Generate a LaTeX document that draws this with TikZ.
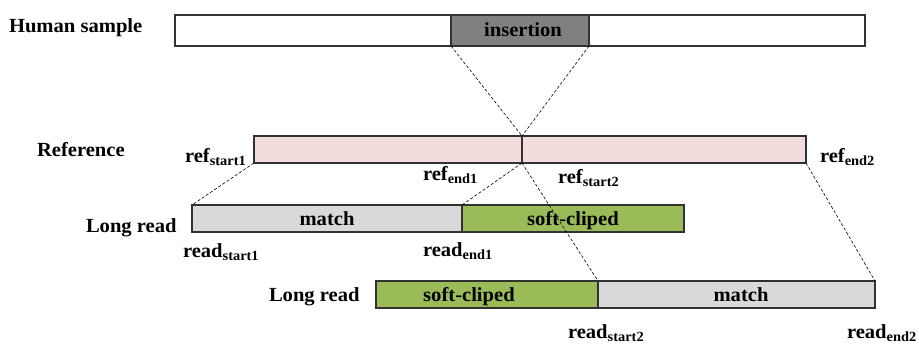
\documentclass[tikz,border=0pt]{standalone}
\usepackage{fontspec}
\setmainfont{Liberation Serif}[FakeStretch=1.03]
\definecolor{insgray}{RGB}{128,128,128}
\definecolor{refpink}{RGB}{242,220,219}
\definecolor{matchgray}{RGB}{217,217,217}
\definecolor{clipgreen}{RGB}{155,187,89}
\definecolor{edge}{RGB}{50,50,50}
\begin{document}
\begin{tikzpicture}[x=1bp,y=-1bp,
  seg/.style={draw=edge, line width=1.1bp, anchor=north west, inner sep=0pt, outer sep=0pt},
  lbl/.style={inner sep=0pt, outer sep=0pt, font=\fontsize{20bp}{22bp}\selectfont\bfseries},
  guide/.style={draw=black, line width=0.6bp, dash pattern=on 3bp off 2bp}
]
\useasboundingbox (0,0) rectangle (919,344);
% Human sample
\node[seg, fill=white, minimum width=276bp, minimum height=31bp] (hsL) at (175,15) {};
\node[seg, fill=insgray, minimum width=138bp, minimum height=31bp] (ins) at (451,15) {};
\node[seg, fill=white, minimum width=276bp, minimum height=31bp] (hsR) at (589,15) {};
\node[lbl, anchor=base] (inslbl) at (523,36) {insertion};
% Reference
\node[seg, fill=refpink, minimum width=268bp, minimum height=27bp] (refL) at (254,136) {};
\node[seg, fill=refpink, minimum width=284bp, minimum height=27bp] (refR) at (522,136) {};
% Long read 1
\node[seg, fill=matchgray, minimum width=270bp, minimum height=27bp] (m1) at (192,205) {};
\node[seg, fill=clipgreen, minimum width=222bp, minimum height=27bp] (s1) at (462,205) {};
\node[lbl, anchor=base] (m1lbl) at (327,225) {match};
\node[lbl, anchor=base] (s1lbl) at (573,225) {soft-cliped};
% Long read 2
\node[seg, fill=clipgreen, minimum width=222bp, minimum height=27bp] (s2) at (376,281) {};
\node[seg, fill=matchgray, minimum width=277bp, minimum height=27bp] (m2) at (598,281) {};
\node[lbl, anchor=base] (s2lbl) at (469,301) {soft-cliped};
\node[lbl, anchor=base] (m2lbl) at (741,301) {match};
% dashed guides
\draw[guide] (ins.south west) -- (refL.north east);
\draw[guide] (ins.south east) -- (refR.north west);
\draw[guide] (refL.south west) -- (m1.north west);
\draw[guide] (refL.south east) -- (s1.north west);
\draw[guide] (refR.south west) -- (s2.north east);
\draw[guide] (refR.south east) -- (m2.north east);
% row titles
\node[lbl, anchor=base west] (thuman) at (9,32) {Human sample};
\node[lbl, anchor=base west] (tref) at (37,156) {Reference};
\node[lbl, anchor=base west] (tlr1) at (86,232) {Long read};
\node[lbl, anchor=base west] (tlr2) at (269,301) {Long read};
% position labels
\node[lbl, anchor=base west] (rs1) at (185,162) {ref\textsubscript{start1}};
\node[lbl, anchor=base west] (re1) at (423,180) {ref\textsubscript{end1}};
\node[lbl, anchor=base west] (rs2) at (558,183) {ref\textsubscript{start2}};
\node[lbl, anchor=base west] (re2) at (820,162) {ref\textsubscript{end2}};
\node[lbl, anchor=base west] (rds1) at (183,257) {read\textsubscript{start1}};
\node[lbl, anchor=base west] (rde1) at (423,256) {read\textsubscript{end1}};
\node[lbl, anchor=base west] (rds2) at (568,338) {read\textsubscript{start2}};
\node[lbl, anchor=base west] (rde2) at (847,338) {read\textsubscript{end2}};
\end{tikzpicture}
\end{document}
